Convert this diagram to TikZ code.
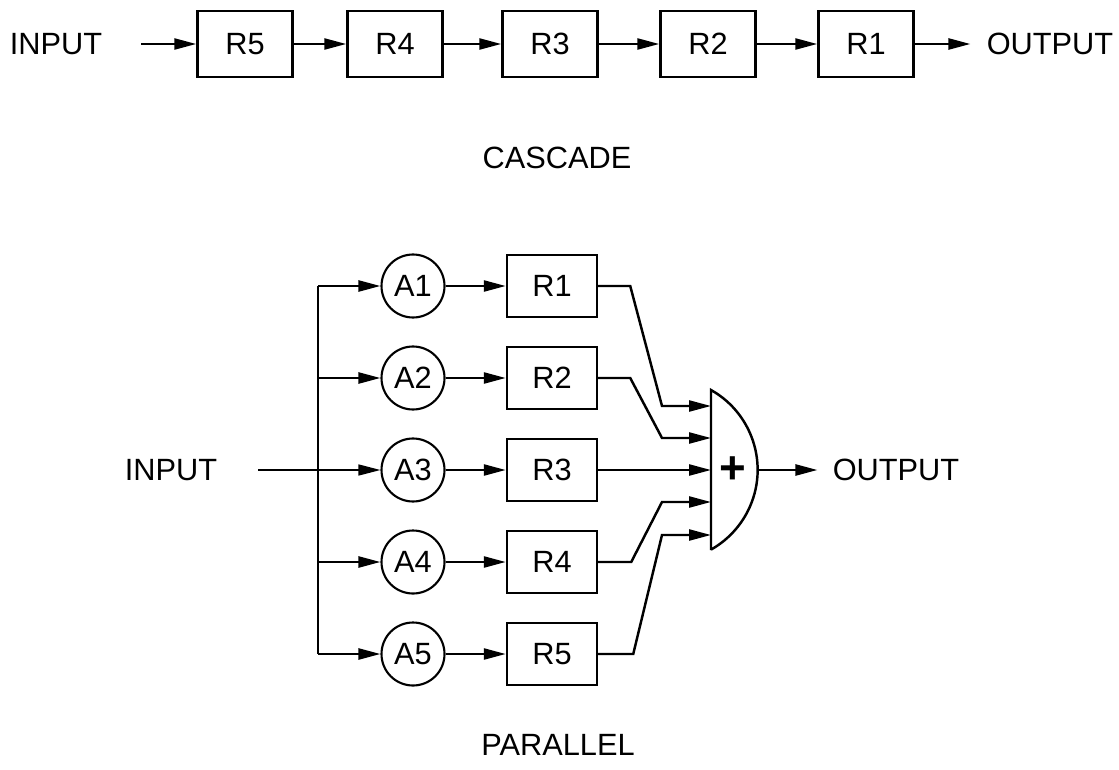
\documentclass[tikz,border=0pt]{standalone}
\usepackage{fontspec}
\setmainfont{Liberation Sans}
\usetikzlibrary{arrows.meta}

\tikzset{
  blk/.style={draw,line width=1.4pt,minimum width=1.8cm,minimum height=1.24cm,inner sep=0pt},
  amp/.style={draw,circle,line width=1.2pt,minimum size=1.26cm,inner sep=0pt},
  lbl/.style={inner sep=0pt},
  wire/.style={line width=1.4pt},
}

\begin{document}
\begin{tikzpicture}[x=0.2mm,y=0.2mm,>={Triangle[length=4.4mm,width=2.2mm]},font=\fontsize{17.5}{20}\selectfont]
\useasboundingbox (0,0) rectangle (1119,-769);
% cascade
\node[lbl] (inC) at (56,-44) {INPUT};
\foreach \n/\x in {5/245,4/395,3/550,2/708,1/866}
  \node[blk,minimum width=1.9cm,minimum height=1.32cm] (c\n) at (\x,-44) {R\n};
\node[lbl] (outC) at (1050,-44) {OUTPUT};
\draw[wire,->,shorten <=0.78cm] (inC) -- (c5);
\draw[wire,->] (c5) -- (c4);
\draw[wire,->] (c4) -- (c3);
\draw[wire,->] (c3) -- (c2);
\draw[wire,->] (c2) -- (c1);
\draw[wire,->,shorten >=0.32cm] (c1) -- (outC);
\node[lbl] (cas) at (557,-158) {CASCADE};
% parallel
\foreach \i/\y in {1/-286,2/-378,3/-470,4/-562,5/-654}{
  \node[amp] (a\i) at (413,\y) {A\i};
  \node[blk] (r\i) at (552,\y) {R\i};
  \coordinate (b\i) at (318,\y);
  \draw[wire,->] (a\i) -- (r\i);
}
\foreach \i in {1,2,4,5}
  \draw[wire,->] (b\i) -- (a\i);
\draw[wire] (b1) -- (b5);
\node[lbl] (inP) at (171,-470) {INPUT};
\draw[line width=0.8pt,->,shorten <=0.82cm] (inP) -- (a3);
% summing junction
\coordinate (sT) at (711,-390);
\coordinate (sB) at (711,-550);
\coordinate (sO) at (758,-470);
\draw[wire] (sB) -- (sT) arc[start angle=60.6,end angle=-60.6,radius=91.6] -- cycle;
\node[lbl,font=\fontsize{26}{26}\selectfont\bfseries] (sum) at (733,-470) {+};
\foreach \i/\y in {1/-406,2/-438,3/-470,4/-502,5/-535}
  \coordinate (s\i) at (711,\y);
\draw[wire,->] (r1.east) -- ++(32,0) -- ([xshift=-0.98cm]s1) -- (s1);
\draw[wire,->] (r2.east) -- ++(32,0) -- ([xshift=-0.98cm]s2) -- (s2);
\draw[wire,->] (r3.east) -- (s3);
\draw[wire,->] (r4.east) -- ++(33,0) -- ([xshift=-0.98cm]s4) -- (s4);
\draw[wire,->] (r5.east) -- ++(35,0) -- ([xshift=-0.98cm]s5) -- (s5);
\node[lbl] (outP) at (896,-470) {OUTPUT};
\draw[wire,->,shorten >=0.3cm] (sO) -- (outP);
\node[lbl] (par) at (558,-745) {PARALLEL};
\end{tikzpicture}
\end{document}
